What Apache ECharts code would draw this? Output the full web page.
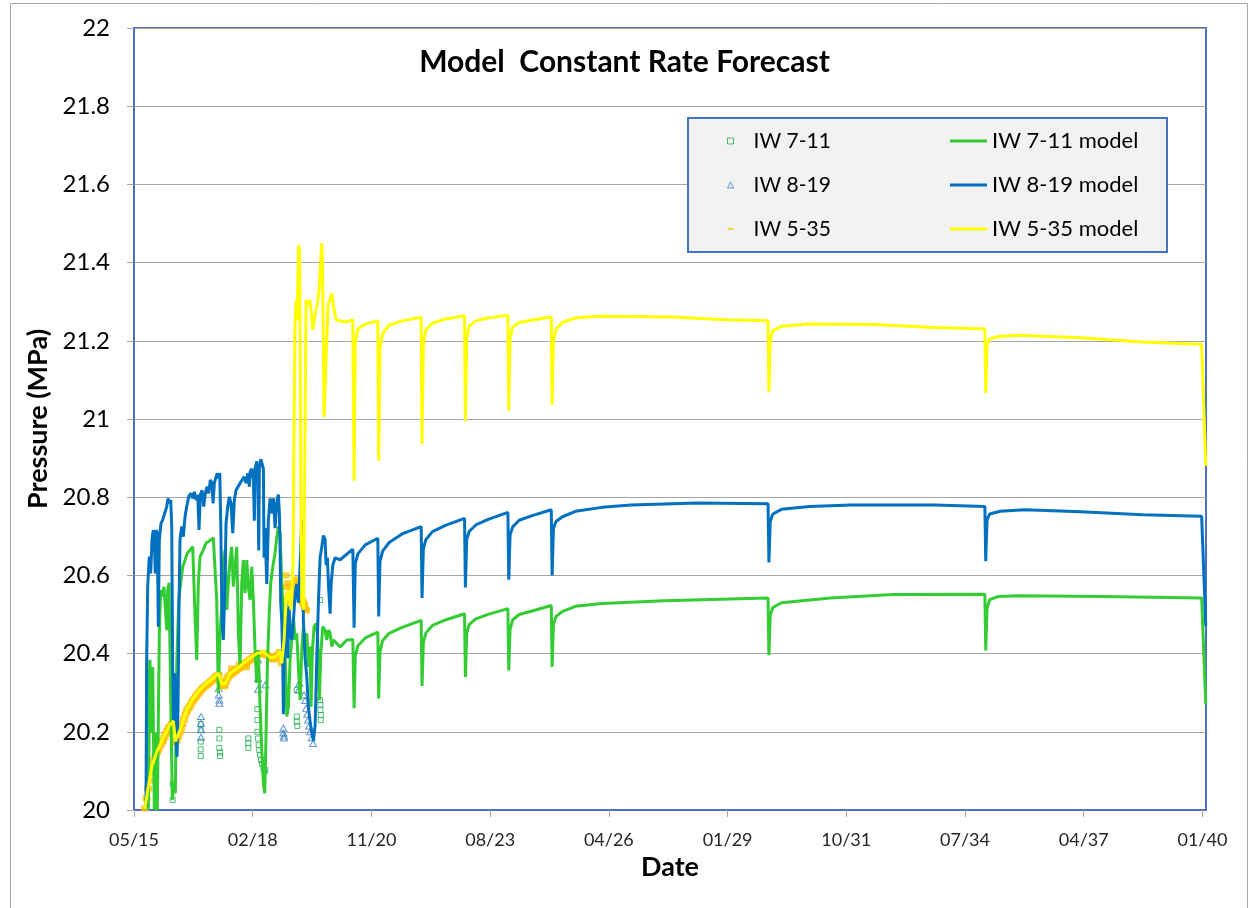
<!DOCTYPE html>
<html><head><meta charset="utf-8">
<script src="https://cdn.jsdelivr.net/npm/echarts@6/dist/echarts.min.js"></script>
<style>html,body{margin:0;padding:0;background:#fff}#c{width:1249px;height:908px}</style>
</head><body><div id="c"></div>
<script>
// ---- axis settings (dates as day offsets from 15 May 2015) ----
const START_MS = Date.UTC(2015, 4, 15);
const START_YEAR = 2015 + 134 / 365;
const X_MAX_DAYS = 9030;
const X_TICK_DAYS = 1000;
const Y_MIN = 20, Y_MAX = 22, Y_STEP = 0.2;

// ---- data: [decimal year, pressure MPa] ----
const iw711Obs = [
  [2016.260,20.026],[2016.260,20.066],
  [2016.906,20.220],[2016.906,20.205],[2016.906,20.175],[2016.906,20.155],[2016.906,20.138],
  [2017.335,20.205],[2017.335,20.183],[2017.335,20.159],[2017.352,20.147],[2017.352,20.138],
  [2018.004,20.183],[2018.004,20.171],[2018.004,20.159],
  [2018.212,20.258],[2018.212,20.230],[2018.212,20.200],[2018.228,20.183],[2018.244,20.166],
  [2018.258,20.153],[2018.274,20.141],[2018.298,20.128],[2018.321,20.118],[2018.351,20.107],
  [2018.374,20.098],[2018.397,20.102],
  [2019.121,20.307],[2019.121,20.239],[2019.121,20.226],[2019.135,20.215],
  [2019.659,20.537],[2019.659,20.281],[2019.666,20.269],[2019.666,20.256],[2019.675,20.243],[2019.675,20.230]
];
const iw819Obs = [
  [2016.251,20.226],[2016.251,20.217],
  [2016.913,20.239],[2016.913,20.222],[2016.913,20.205],[2016.913,20.186],
  [2017.322,20.311],[2017.322,20.294],[2017.335,20.281],[2017.335,20.273],
  [2018.228,20.384],[2018.228,20.337],[2018.228,20.309],[2018.397,20.320],
  [2018.812,20.209],[2018.812,20.197],[2018.828,20.189],[2018.828,20.184],
  [2019.181,20.324],[2019.163,20.307],[2019.290,20.294],[2019.313,20.280],[2019.336,20.260],
  [2019.359,20.245],[2019.382,20.230],[2019.405,20.215],[2019.428,20.200],[2019.463,20.185],[2019.497,20.170]
];
const iw535Obs = [
  [2015.621,20.004],[2015.656,20.030],[2015.690,20.055],[2015.725,20.075],[2015.759,20.098],[2015.794,20.115],
  [2015.829,20.128],[2015.863,20.140],[2015.898,20.148],[2015.933,20.155],[2015.967,20.165],[2016.002,20.172],
  [2016.036,20.178],[2016.071,20.186],[2016.105,20.195],[2016.140,20.203],[2016.175,20.210],[2016.209,20.215],
  [2016.244,20.220],[2016.279,20.218],[2016.302,20.195],[2016.325,20.172],[2016.348,20.178],[2016.382,20.188],
  [2016.417,20.198],[2016.451,20.208],[2016.486,20.220],[2016.521,20.232],[2016.555,20.244],[2016.590,20.253],
  [2016.625,20.260],[2016.659,20.266],[2016.694,20.274],[2016.728,20.280],[2016.763,20.285],[2016.798,20.290],
  [2016.832,20.296],[2016.867,20.300],[2016.902,20.305],[2016.936,20.310],[2016.971,20.313],[2017.005,20.316],
  [2017.040,20.320],[2017.075,20.322],[2017.109,20.326],[2017.144,20.329],[2017.178,20.332],[2017.213,20.336],
  [2017.248,20.340],[2017.282,20.343],[2017.317,20.345],[2017.352,20.330],[2017.386,20.320],[2017.421,20.316],
  [2017.456,20.318],[2017.490,20.328],[2017.525,20.338],[2017.559,20.343],[2017.594,20.346],[2017.629,20.349],
  [2017.629,20.362],[2017.663,20.352],[2017.698,20.355],[2017.733,20.358],[2017.767,20.361],[2017.802,20.363],
  [2017.813,20.372],[2017.836,20.366],[2017.871,20.369],[2017.905,20.372],[2017.940,20.375],[2017.951,20.365],
  [2017.975,20.378],[2018.009,20.381],[2018.044,20.384],[2018.079,20.387],[2018.113,20.390],[2018.148,20.393],
  [2018.182,20.395],[2018.217,20.397],[2018.252,20.398],[2018.286,20.400],[2018.321,20.401],[2018.356,20.400],
  [2018.390,20.398],[2018.425,20.396],[2018.459,20.395],[2018.494,20.394],[2018.529,20.390],[2018.563,20.385],
  [2018.598,20.386],[2018.633,20.390],[2018.667,20.394],[2018.702,20.398],[2018.736,20.404],[2018.759,20.390],
  [2018.775,20.375],
  [2018.863,20.600],[2018.886,20.570],[2018.898,20.540],[2018.921,20.580],[2018.944,20.550],[2018.967,20.530],
  [2018.990,20.570],[2019.013,20.550],[2019.059,20.580],[2019.082,20.565],[2019.105,20.590],[2019.128,20.560],
  [2019.151,20.580],[2019.174,20.555],[2019.197,20.545],[2019.220,20.540],[2019.243,20.535],[2019.266,20.530],
  [2019.290,20.525],[2019.313,20.515],[2019.336,20.510]
];
const iw711Model = [
  [2015.660,20.392],[2015.697,20.000],[2015.736,20.384],[2015.775,20.197],[2015.799,20.366],[2015.835,20.000],
  [2015.875,20.197],[2015.905,20.000],[2015.951,20.453],[2015.983,20.563],[2016.020,20.546],[2016.059,20.571],
  [2016.122,20.460],[2016.145,20.563],[2016.175,20.581],[2016.214,20.281],[2016.251,20.026],[2016.290,20.069],
  [2016.320,20.043],[2016.352,20.366],[2016.399,20.537],[2016.445,20.581],[2016.491,20.622],[2016.544,20.639],
  [2016.597,20.657],[2016.659,20.665],[2016.722,20.673],[2016.775,20.494],[2016.814,20.384],[2016.851,20.581],
  [2016.890,20.648],[2016.929,20.657],[2016.966,20.665],[2017.028,20.683],[2017.081,20.686],[2017.137,20.691],
  [2017.197,20.696],[2017.236,20.699],[2017.275,20.537],[2017.312,20.299],[2017.352,20.453],[2017.391,20.520],
  [2017.428,20.639],[2017.467,20.665],[2017.506,20.512],[2017.543,20.581],[2017.582,20.639],[2017.621,20.673],
  [2017.658,20.571],[2017.698,20.622],[2017.737,20.673],[2017.774,20.452],[2017.813,20.366],[2017.852,20.581],
  [2017.889,20.639],[2017.928,20.555],[2017.968,20.639],[2018.004,20.571],[2018.044,20.537],[2018.083,20.622],
  [2018.120,20.537],[2018.159,20.409],[2018.198,20.325],[2018.235,20.409],[2018.274,20.264],[2018.314,20.153],
  [2018.351,20.069],[2018.383,20.043],[2018.413,20.197],[2018.443,20.366],[2018.482,20.494],[2018.521,20.581],
  [2018.568,20.622],[2018.621,20.657],[2018.660,20.699],[2018.697,20.725],[2018.736,20.708],[2018.775,20.581],
  [2018.812,20.494],[2018.851,20.409],[2018.891,20.239],[2018.928,20.264],[2018.967,20.384],[2019.006,20.435],
  [2019.043,20.494],[2019.082,20.435],[2019.121,20.452],[2019.158,20.366],[2019.198,20.281],[2019.237,20.409],
  [2019.274,20.469],[2019.313,20.409],[2019.352,20.452],[2019.389,20.366],[2019.428,20.418],[2019.451,20.264],
  [2019.481,20.409],[2019.521,20.469],[2019.567,20.477],[2019.597,20.452],[2019.643,20.281],[2019.675,20.401],
  [2019.721,20.469],[2019.774,20.460],[2019.814,20.435],[2019.851,20.460],[2019.890,20.453],[2019.929,20.418],
  [2019.966,20.435],[2020.044,20.426],[2020.121,20.417],[2020.275,20.435],[2020.414,20.436],
  [2020.443,20.260],[2020.47,20.395],[2020.53,20.420],[2020.70,20.440],[2020.99,20.455],
  [2021.01,20.285],[2021.04,20.405],[2021.10,20.433],[2021.25,20.452],[2021.55,20.467],[2021.99,20.485],
  [2022.01,20.317],[2022.04,20.428],[2022.10,20.453],[2022.25,20.472],[2022.55,20.486],[2022.99,20.502],
  [2023.01,20.340],[2023.04,20.452],[2023.10,20.475],[2023.25,20.489],[2023.55,20.501],[2023.99,20.515],
  [2024.01,20.357],[2024.04,20.463],[2024.10,20.486],[2024.25,20.500],[2024.55,20.509],[2024.99,20.523],
  [2025.01,20.366],[2025.04,20.475],[2025.10,20.495],[2025.25,20.508],[2025.55,20.521],[2026.16,20.528],
  [2027.60,20.535],[2029.99,20.542],
  [2030.01,20.396],[2030.04,20.498],[2030.10,20.518],[2030.30,20.530],[2031.43,20.542],[2032.87,20.551],
  [2034.99,20.552],
  [2035.01,20.408],[2035.04,20.515],[2035.10,20.538],[2035.30,20.546],[2035.74,20.548],[2037.67,20.546],
  [2039.99,20.542],[2040.085,20.270]
];
const iw819Model = [
  [2015.644,20.008],[2015.660,20.392],[2015.683,20.571],[2015.720,20.648],[2015.752,20.605],[2015.782,20.691],
  [2015.812,20.716],[2015.835,20.691],[2015.859,20.605],[2015.875,20.716],[2015.905,20.708],[2015.928,20.469],
  [2015.951,20.691],[2015.990,20.733],[2016.029,20.742],[2016.075,20.759],[2016.122,20.776],[2016.152,20.797],
  [2016.182,20.784],[2016.214,20.793],[2016.237,20.725],[2016.260,20.350],[2016.283,20.222],[2016.313,20.350],
  [2016.336,20.179],[2016.359,20.136],[2016.382,20.264],[2016.405,20.520],[2016.428,20.691],[2016.468,20.725],
  [2016.505,20.699],[2016.544,20.750],[2016.583,20.776],[2016.629,20.801],[2016.675,20.810],[2016.722,20.797],
  [2016.758,20.814],[2016.798,20.793],[2016.837,20.806],[2016.867,20.716],[2016.897,20.806],[2016.936,20.818],
  [2016.975,20.776],[2017.012,20.810],[2017.051,20.827],[2017.091,20.810],[2017.128,20.844],[2017.167,20.836],
  [2017.190,20.784],[2017.220,20.836],[2017.259,20.852],[2017.289,20.861],[2017.322,20.848],[2017.345,20.862],
  [2017.368,20.733],[2017.398,20.477],[2017.428,20.435],[2017.460,20.563],[2017.490,20.733],[2017.529,20.776],
  [2017.566,20.801],[2017.605,20.784],[2017.645,20.708],[2017.681,20.793],[2017.721,20.818],[2017.767,20.827],
  [2017.813,20.831],[2017.859,20.844],[2017.905,20.852],[2017.951,20.836],[2017.991,20.861],[2018.028,20.827],
  [2018.044,20.864],[2018.083,20.873],[2018.120,20.845],[2018.143,20.740],[2018.159,20.873],[2018.198,20.892],
  [2018.221,20.864],[2018.244,20.664],[2018.258,20.873],[2018.291,20.897],[2018.321,20.892],[2018.351,20.873],
  [2018.367,20.645],[2018.390,20.721],[2018.429,20.578],[2018.466,20.740],[2018.505,20.797],[2018.544,20.759],
  [2018.581,20.797],[2018.621,20.721],[2018.660,20.788],[2018.697,20.807],[2018.720,20.759],[2018.736,20.673],
  [2018.752,20.530],[2018.775,20.483],[2018.798,20.388],[2018.812,20.245],[2018.835,20.435],[2018.868,20.530],
  [2018.891,20.435],[2018.914,20.388],[2018.944,20.521],[2018.967,20.454],[2019.006,20.435],[2019.043,20.483],
  [2019.082,20.550],[2019.121,20.578],[2019.158,20.530],[2019.198,20.626],[2019.237,20.740],[2019.260,20.626],
  [2019.274,20.483],[2019.313,20.388],[2019.352,20.340],[2019.389,20.264],[2019.428,20.226],[2019.467,20.197],
  [2019.504,20.178],[2019.544,20.216],[2019.583,20.388],[2019.620,20.530],[2019.659,20.645],[2019.698,20.673],
  [2019.735,20.702],[2019.774,20.692],[2019.797,20.626],[2019.827,20.645],[2019.851,20.578],[2019.890,20.502],
  [2019.913,20.578],[2019.952,20.626],[2020.005,20.645],[2020.121,20.640],[2020.414,20.667],
  [2020.443,20.466],[2020.47,20.630],[2020.53,20.655],[2020.70,20.678],[2020.99,20.695],
  [2021.01,20.495],[2021.04,20.635],[2021.10,20.662],[2021.25,20.684],[2021.55,20.706],[2021.99,20.725],
  [2022.01,20.542],[2022.04,20.668],[2022.10,20.692],[2022.25,20.712],[2022.55,20.728],[2022.99,20.746],
  [2023.01,20.569],[2023.04,20.692],[2023.10,20.713],[2023.25,20.729],[2023.55,20.744],[2023.99,20.761],
  [2024.01,20.589],[2024.04,20.703],[2024.10,20.724],[2024.25,20.741],[2024.55,20.753],[2024.99,20.768],
  [2025.01,20.600],[2025.04,20.720],[2025.10,20.738],[2025.25,20.750],[2025.55,20.764],[2026.16,20.774],
  [2026.83,20.780],[2028.36,20.785],[2029.99,20.783],
  [2030.01,20.633],[2030.04,20.738],[2030.10,20.757],[2030.30,20.769],[2030.95,20.776],[2031.91,20.780],
  [2033.83,20.780],[2034.99,20.776],
  [2035.01,20.636],[2035.04,20.742],[2035.10,20.757],[2035.34,20.764],[2035.91,20.768],[2037.20,20.763],
  [2038.63,20.755],[2039.99,20.751],[2040.085,20.470]
];
const iw535Model = [
  [2015.621,20.004],[2015.697,20.060],[2015.775,20.110],[2015.891,20.148],[2016.043,20.185],[2016.198,20.218],
  [2016.274,20.228],[2016.325,20.175],[2016.352,20.180],[2016.428,20.205],[2016.583,20.256],[2016.735,20.286],
  [2016.890,20.308],[2017.045,20.325],[2017.197,20.337],[2017.312,20.350],[2017.391,20.322],[2017.467,20.322],
  [2017.582,20.350],[2017.737,20.362],[2017.889,20.375],[2018.044,20.388],[2018.198,20.400],[2018.351,20.405],
  [2018.505,20.390],[2018.621,20.390],[2018.736,20.405],[2018.775,20.375],[2018.782,20.371],[2018.828,20.435],
  [2018.874,20.537],[2018.921,20.563],[2018.990,20.512],[2019.036,20.639],[2019.059,20.997],[2019.082,21.253],
  [2019.105,21.304],[2019.128,21.253],[2019.163,21.445],[2019.186,21.432],[2019.197,21.253],[2019.220,20.716],
  [2019.243,20.537],[2019.278,20.512],[2019.313,20.997],[2019.336,21.304],[2019.382,21.292],[2019.428,21.304],
  [2019.491,21.228],[2019.544,21.266],[2019.590,21.292],[2019.636,21.330],[2019.698,21.450],[2019.717,21.381],
  [2019.751,21.005],[2019.786,21.125],[2019.844,21.292],[2019.929,21.322],[2019.982,21.279],[2020.028,21.253],
  [2020.236,21.248],[2020.414,21.253],
  [2020.443,20.842],[2020.47,21.195],[2020.53,21.230],[2020.70,21.243],[2020.99,21.251],
  [2021.01,20.893],[2021.04,21.180],[2021.10,21.218],[2021.25,21.240],[2021.55,21.251],[2021.99,21.260],
  [2022.01,20.936],[2022.04,21.190],[2022.10,21.228],[2022.25,21.245],[2022.55,21.256],[2022.99,21.264],
  [2023.01,20.995],[2023.04,21.205],[2023.10,21.238],[2023.25,21.251],[2023.55,21.259],[2023.99,21.265],
  [2024.01,21.021],[2024.04,21.205],[2024.10,21.235],[2024.25,21.247],[2024.55,21.253],[2024.99,21.261],
  [2025.01,21.036],[2025.04,21.200],[2025.10,21.230],[2025.25,21.247],[2025.55,21.259],[2026.16,21.263],
  [2027.78,21.261],[2029.03,21.254],[2029.99,21.251],
  [2030.01,21.070],[2030.04,21.200],[2030.10,21.226],[2030.30,21.237],[2030.95,21.243],[2032.40,21.242],
  [2033.83,21.234],[2034.99,21.230],
  [2035.01,21.066],[2035.04,21.190],[2035.10,21.205],[2035.30,21.211],[2035.74,21.214],[2037.20,21.208],
  [2038.63,21.197],[2039.99,21.191],[2040.085,20.880]
];

const FONT = 'Lato, "Open Sans", "Noto Sans", sans-serif';
function toDays(yr) { return (yr - START_YEAR) * 365.25; }
function conv(arr) { return arr.map(p => [toDays(p[0]), p[1]]); }
function pad(n) { return (n < 10 ? '0' : '') + n; }
function fmtDate(d) {
  if (Math.abs(d % X_TICK_DAYS) > 0.001) return '';
  const dt = new Date(START_MS + d * 86400000);
  return pad(dt.getUTCMonth() + 1) + '/' + pad(dt.getUTCFullYear() % 100);
}

const chart = echarts.init(document.getElementById('c'), null, {renderer: 'canvas'});
chart.setOption({
  animation: false,
  backgroundColor: '#ffffff',
  textStyle: {fontFamily: FONT},
  title: {
    text: 'Model  Constant Rate Forecast',
    left: 'center', top: 42,
    textStyle: {fontFamily: FONT, fontSize: 30, fontWeight: 'bold', color: '#000'}
  },
  grid: {left: 134, right: 43, top: 28, bottom: 98, show: true, borderColor: '#4a72c0', borderWidth: 2},
  xAxis: {
    type: 'value', min: 0, max: X_MAX_DAYS, interval: X_TICK_DAYS,
    name: 'Date', nameLocation: 'middle', nameGap: 44,
    nameTextStyle: {fontFamily: FONT, fontSize: 27, fontWeight: 'bold', color: '#000'},
    axisLine: {show: true, lineStyle: {color: '#4a72c0', width: 2}},
    axisTick: {show: true, length: 7, lineStyle: {color: '#a6a6a6'}},
    axisLabel: {formatter: fmtDate, fontSize: 18, color: '#262626', margin: 21, showMaxLabel: false},
    splitLine: {show: false}
  },
  yAxis: {
    type: 'value', min: Y_MIN, max: Y_MAX, interval: Y_STEP,
    name: 'Pressure (MPa)', nameLocation: 'middle', nameGap: 76, nameRotate: 90,
    nameTextStyle: {fontFamily: FONT, fontSize: 27, fontWeight: 'bold', color: '#000'},
    axisLine: {show: true, lineStyle: {color: '#4a72c0', width: 2}},
    axisTick: {show: true, length: 7, lineStyle: {color: '#a6a6a6'}},
    axisLabel: {fontSize: 24, color: '#000', margin: 24},
    splitLine: {show: true, lineStyle: {color: '#a6a6a6', width: 1}}
  },
  legend: [
    {
      data: ['IW 7-11', 'IW 8-19', 'IW 5-35'],
      orient: 'vertical', left: 727, top: 129, padding: 0, itemGap: 20,
      itemWidth: 6, itemHeight: 6, z: 60, selectedMode: false,
      itemStyle: {borderWidth: 1},
      textStyle: {fontFamily: FONT, fontSize: 21, color: '#000', lineHeight: 24, padding: [0, 0, 0, 15]}
    },
    {
      data: ['IW 7-11 model', 'IW 8-19 model', 'IW 5-35 model'],
      orient: 'vertical', left: 950, top: 129, padding: 0, itemGap: 20,
      itemWidth: 37, itemHeight: 14, z: 60, selectedMode: false,
      icon: 'path://M0,0H37V3H0Z',
      textStyle: {fontFamily: FONT, fontSize: 22, color: '#000', lineHeight: 24}
    }
  ],
  graphic: [
    {type: 'rect', silent: true, z: -10, shape: {x: 10.5, y: 3.5, width: 1237, height: 940},
     style: {fill: 'none', stroke: '#a6a6a6', lineWidth: 1}},
    {type: 'rect', silent: true, z: 50, shape: {x: 688, y: 118, width: 479, height: 134},
     style: {fill: '#f2f2f2', stroke: '#4472c4', lineWidth: 2}}
  ],
  series: [
    {name: 'IW 7-11 model', type: 'line', data: conv(iw711Model), symbol: 'none', showSymbol: false,
     lineStyle: {color: '#33cc33', width: 3}, itemStyle: {color: '#33cc33'}},
    {name: 'IW 8-19 model', type: 'line', data: conv(iw819Model), symbol: 'none', showSymbol: false,
     lineStyle: {color: '#0070c0', width: 3}, itemStyle: {color: '#0070c0'}},
    {name: 'IW 5-35 model', type: 'line', data: conv(iw535Model), symbol: 'none', showSymbol: false,
     lineStyle: {color: '#ffff00', width: 3}, itemStyle: {color: '#ffff00'}},
    {name: 'IW 7-11', type: 'scatter', data: conv(iw711Obs), symbol: 'rect', symbolSize: 5,
     itemStyle: {color: 'rgba(255,255,255,0)', borderColor: '#1fae4e', borderWidth: 1}},
    {name: 'IW 8-19', type: 'scatter', data: conv(iw819Obs), symbol: 'triangle', symbolSize: [7, 6],
     itemStyle: {color: 'rgba(255,255,255,0)', borderColor: '#3a7cc4', borderWidth: 1}},
    {name: 'IW 5-35', type: 'scatter', data: conv(iw535Obs), symbol: 'path://M0,0H10V3H0Z', symbolSize: [8, 6],
     itemStyle: {color: '#ffc000'}}
  ]
});
</script>
</body></html>
